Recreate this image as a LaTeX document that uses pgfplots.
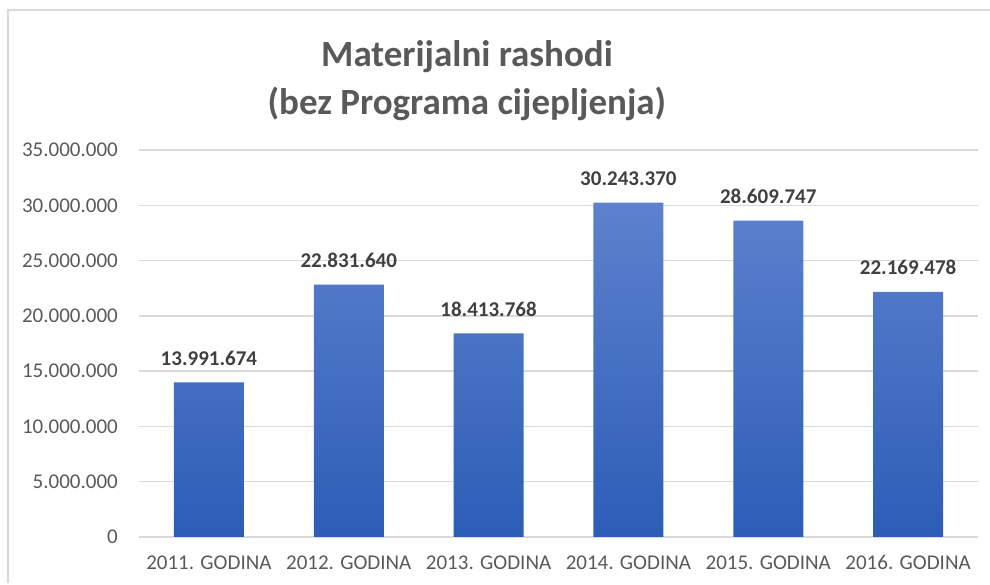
\documentclass[border=0pt]{standalone}
\usepackage{pgfplots}
\pgfplotsset{compat=1.18}
\usepackage{pgfplotstable}
\usepackage{fontspec}
\setmainfont{Carlito}
\definecolor{gridc}{RGB}{217,217,217}
\definecolor{txt}{RGB}{89,89,89}
\definecolor{lbl}{RGB}{64,64,64}
\definecolor{bartop}{RGB}{93,129,205}
\definecolor{barbot}{RGB}{44,93,183}
\pgfplotstableread{
x y label
0 13991674 13.991.674
1 22831640 22.831.640
2 18413768 18.413.768
3 30243370 30.243.370
4 28609747 28.609.747
5 22169478 22.169.478
}\datatab
\begin{document}
\begin{tikzpicture}
\useasboundingbox (0pt,0pt) rectangle (990pt,585pt);
\draw[gridc, line width=2pt] (8pt,2pt) -- (8pt,575pt) -- (992pt,575pt);
\node[anchor=base, text=txt, font=\fontsize{37}{44}\selectfont\bfseries] at (467pt,518pt) {Materijalni rashodi};
\node[anchor=base, text=txt, font=\fontsize{37}{44}\selectfont\bfseries] at (467pt,470pt) {(bez Programa cijepljenja)};
\begin{axis}[
  at={(139pt,48pt)}, anchor=south west,
  scale only axis, width=839pt, height=387pt,
  xmin=-0.5, xmax=5.5, ymin=0, ymax=35000000,
  axis line style={draw=none},
  major tick length=0pt,
  ymajorgrids, grid style={gridc, line width=1.4pt},
  ytick={0,5000000,10000000,15000000,20000000,25000000,30000000,35000000},
  yticklabels={0,5.000.000,10.000.000,15.000.000,20.000.000,25.000.000,30.000.000,35.000.000},
  scaled y ticks=false,
  yticklabel style={anchor=east, inner sep=0pt, xshift=-21pt, text=txt, font=\fontsize{21}{25}\selectfont},
  xtick={0,1,2,3,4,5},
  xticklabels={2011. GODINA,2012. GODINA,2013. GODINA,2014. GODINA,2015. GODINA,2016. GODINA},
  xticklabel style={anchor=base, inner sep=0pt, yshift=-33pt, text=txt, font=\fontsize{21}{25}\selectfont},
  clip=false,
]
\addplot[ybar, bar width=70pt, draw=none, top color=bartop, bottom color=barbot,
  point meta=explicit symbolic,
  nodes near coords,
  nodes near coords style={anchor=base, inner sep=0pt, yshift=17pt, text=lbl, font=\fontsize{21}{25}\selectfont\bfseries}]
  table[x=x, y=y, meta=label] {\datatab};
\end{axis}
\end{tikzpicture}
\end{document}
